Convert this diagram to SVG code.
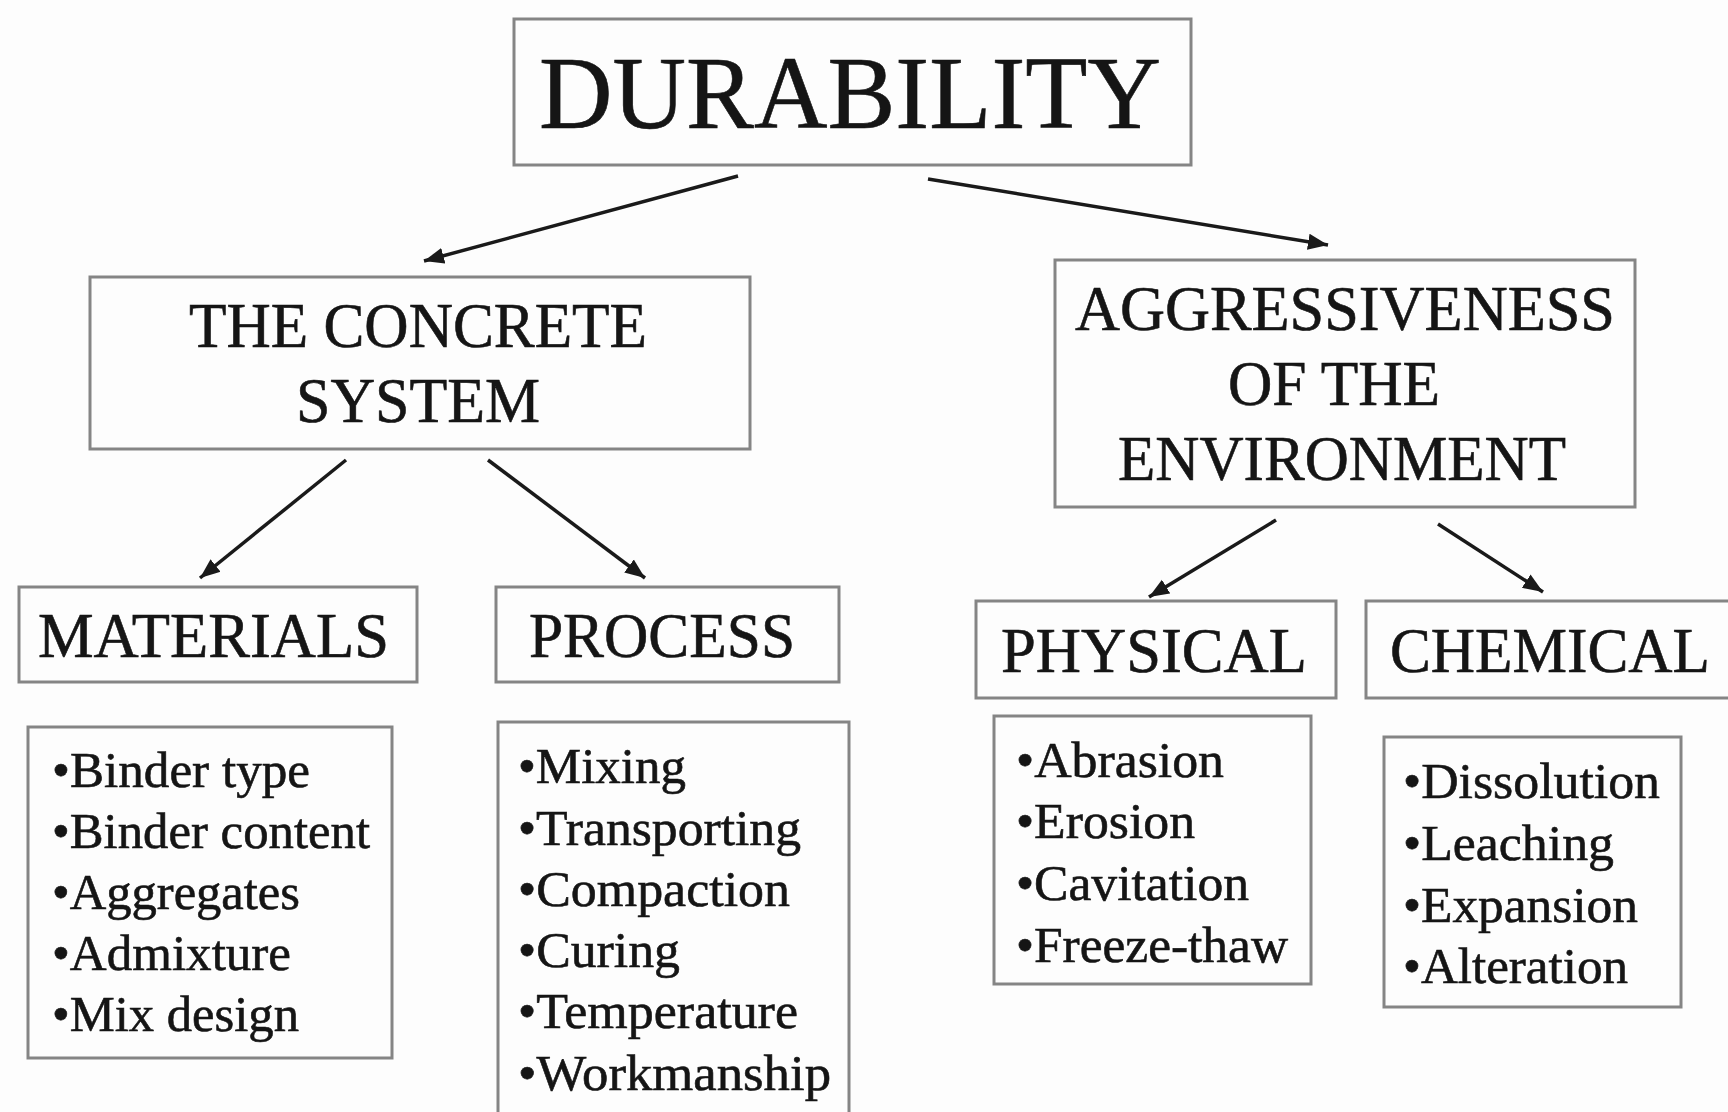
<svg xmlns="http://www.w3.org/2000/svg" width="1728" height="1112" viewBox="0 0 1728 1112">
<style>
.box{fill:#fdfdfd;stroke:#858585;stroke-width:3}
.h{font-family:"Liberation Serif","Times New Roman",serif;fill:#151515;stroke:#151515;stroke-width:0.6}
.li{font-family:"Liberation Serif","Times New Roman",serif;font-size:50px;fill:#151515;stroke:#151515;stroke-width:0.6}
.c{stroke:#1a1a1a;stroke-width:3.5;fill:none;marker-end:url(#ah)}
</style>
<defs>
<marker id="ah" markerUnits="userSpaceOnUse" markerWidth="22" markerHeight="18" refX="20" refY="9" orient="auto">
<path d="M0,1 L20,9 L0,17 Z" fill="#1a1a1a"/>
</marker>
</defs>
<rect width="1728" height="1112" fill="#fdfdfd"/>
<g id="connectors">
<line class="c" x1="738" y1="176" x2="424" y2="261"/>
<line class="c" x1="928" y1="179" x2="1328" y2="245"/>
<line class="c" x1="346" y1="460" x2="200" y2="578"/>
<line class="c" x1="488" y1="460" x2="645" y2="578"/>
<line class="c" x1="1276" y1="520" x2="1149" y2="597"/>
<line class="c" x1="1438" y1="524" x2="1543" y2="592"/>
</g>
<g id="durability">
<rect class="box" x="514" y="19" width="677" height="146"/>
<text class="h" x="539" y="128" font-size="104" textLength="622" lengthAdjust="spacingAndGlyphs">DURABILITY</text>
</g>
<g id="concrete">
<rect class="box" x="90" y="277" width="660" height="172"/>
<text class="h" x="189" y="347" font-size="64" textLength="458" lengthAdjust="spacingAndGlyphs">THE CONCRETE</text>
<text class="h" x="296" y="422" font-size="64" textLength="244" lengthAdjust="spacingAndGlyphs">SYSTEM</text>
</g>
<g id="aggressiveness">
<rect class="box" x="1055" y="260" width="580" height="247"/>
<text class="h" x="1075" y="330" font-size="63" textLength="540" lengthAdjust="spacingAndGlyphs">AGGRESSIVENESS</text>
<text class="h" x="1228" y="405" font-size="63" textLength="212" lengthAdjust="spacingAndGlyphs">OF THE</text>
<text class="h" x="1118" y="480" font-size="63" textLength="448" lengthAdjust="spacingAndGlyphs">ENVIRONMENT</text>
</g>
<g id="materials">
<rect class="box" x="19" y="587" width="398" height="95"/>
<text class="h" x="38" y="657" font-size="64" textLength="351" lengthAdjust="spacingAndGlyphs">MATERIALS</text>
</g>
<g id="process">
<rect class="box" x="496" y="587" width="343" height="95"/>
<text class="h" x="529" y="657" font-size="64" textLength="266" lengthAdjust="spacingAndGlyphs">PROCESS</text>
</g>
<g id="physical">
<rect class="box" x="976" y="601" width="360" height="97"/>
<text class="h" x="1001" y="672" font-size="63" textLength="306" lengthAdjust="spacingAndGlyphs">PHYSICAL</text>
</g>
<g id="chemical">
<rect class="box" x="1366" y="601" width="370" height="97"/>
<text class="h" x="1390" y="672" font-size="63" textLength="320" lengthAdjust="spacingAndGlyphs">CHEMICAL</text>
</g>
<g id="materials-list">
<rect class="box" x="28" y="727" width="364" height="331"/>
<text class="li" x="52" y="787" textLength="258" lengthAdjust="spacingAndGlyphs">•Binder type</text>
<text class="li" x="52" y="848" textLength="318" lengthAdjust="spacingAndGlyphs">•Binder content</text>
<text class="li" x="52" y="909" textLength="248" lengthAdjust="spacingAndGlyphs">•Aggregates</text>
<text class="li" x="52" y="970" textLength="239" lengthAdjust="spacingAndGlyphs">•Admixture</text>
<text class="li" x="52" y="1031" textLength="247" lengthAdjust="spacingAndGlyphs">•Mix design</text>
</g>
<g id="process-list">
<rect class="box" x="498" y="722" width="351" height="400"/>
<text class="li" x="518" y="783" textLength="168" lengthAdjust="spacingAndGlyphs">•Mixing</text>
<text class="li" x="518" y="845" textLength="283" lengthAdjust="spacingAndGlyphs">•Transporting</text>
<text class="li" x="518" y="906" textLength="272" lengthAdjust="spacingAndGlyphs">•Compaction</text>
<text class="li" x="518" y="967" textLength="162" lengthAdjust="spacingAndGlyphs">•Curing</text>
<text class="li" x="518" y="1028" textLength="280" lengthAdjust="spacingAndGlyphs">•Temperature</text>
<text class="li" x="518" y="1090" textLength="313" lengthAdjust="spacingAndGlyphs">•Workmanship</text>
</g>
<g id="physical-list">
<rect class="box" x="994" y="716" width="317" height="268"/>
<text class="li" x="1016" y="777" textLength="208" lengthAdjust="spacingAndGlyphs">•Abrasion</text>
<text class="li" x="1016" y="838" textLength="179" lengthAdjust="spacingAndGlyphs">•Erosion</text>
<text class="li" x="1016" y="900" textLength="233" lengthAdjust="spacingAndGlyphs">•Cavitation</text>
<text class="li" x="1016" y="962" textLength="272" lengthAdjust="spacingAndGlyphs">•Freeze-thaw</text>
</g>
<g id="chemical-list">
<rect class="box" x="1384" y="737" width="297" height="270"/>
<text class="li" x="1403" y="798" textLength="257" lengthAdjust="spacingAndGlyphs">•Dissolution</text>
<text class="li" x="1403" y="860" textLength="211" lengthAdjust="spacingAndGlyphs">•Leaching</text>
<text class="li" x="1403" y="922" textLength="235" lengthAdjust="spacingAndGlyphs">•Expansion</text>
<text class="li" x="1403" y="983" textLength="225" lengthAdjust="spacingAndGlyphs">•Alteration</text>
</g>
</svg>
